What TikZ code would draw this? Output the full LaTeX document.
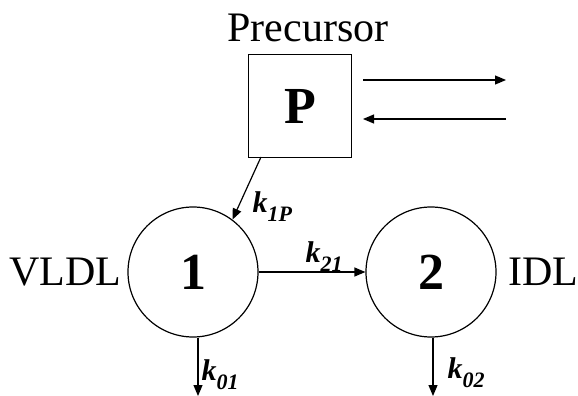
\documentclass[tikz,border=0pt]{standalone}
\usepackage{fontspec}
\setmainfont{Liberation Serif}
\usetikzlibrary{arrows.meta}
\newcommand{\ksub}[1]{k\raisebox{-9pt}{\fontsize{22}{22}\selectfont #1}}
\begin{document}
\begin{tikzpicture}[x=1pt,y=-1pt,
  line width=1.2pt,
  arr/.style={-{Triangle[length=11pt,width=9pt]}},
  comp/.style={draw,circle,minimum size=130pt,inner sep=0pt,font=\fontsize{52}{52}\selectfont\bfseries},
  boxn/.style={draw,minimum size=103pt,inner sep=0pt,font=\fontsize{52}{52}\selectfont\bfseries},
  big/.style={font=\fontsize{42}{42}\selectfont},
  rate/.style={font=\fontsize{30}{30}\selectfont\bfseries\itshape,inner sep=0pt}]
\useasboundingbox (0,0) rectangle (578,396);
\node[boxn] (P) at (300,106) {P};
\node[big,anchor=base] (prec) at (308,42) {Precursor};
\node[comp] (c1) at (193,272) {1};
\node[comp] (c2) at (431,272) {2};
\node[big,anchor=east,inner sep=0pt] (vldl) at (122,272) {VLDL};
\node[big,anchor=west,inner sep=0pt] (idl) at (508,272) {IDL};
\coordinate (o1) at (363,80);
\coordinate (o2) at (506,80);
\coordinate (i1) at (506,119);
\coordinate (i2) at (363,119);
\draw[arr] (o1) -- (o2);
\draw[arr] (i1) -- (i2);
\coordinate (pb) at (261,157);
\draw[arr] (pb) -- (c1.53);
\draw[arr] (c1.east) -- (c2.west);
\coordinate (e1) at (198,396);
\coordinate (e2) at (433,396);
\draw[arr] (c1.south) ++(5,0) coordinate (s1) (s1) -- (e1);
\draw[arr] (c2.south) ++(2,0) coordinate (s2) (s2) -- (e2);
\node[rate,anchor=base west] (k1p) at (252,212) {\ksub{1P}};
\node[rate,anchor=base west] (k21) at (305,262) {\ksub{21}};
\node[rate,anchor=base west] (k01) at (201,380) {\ksub{01}};
\node[rate,anchor=base west] (k02) at (447,378) {\ksub{02}};
\end{tikzpicture}
\end{document}
